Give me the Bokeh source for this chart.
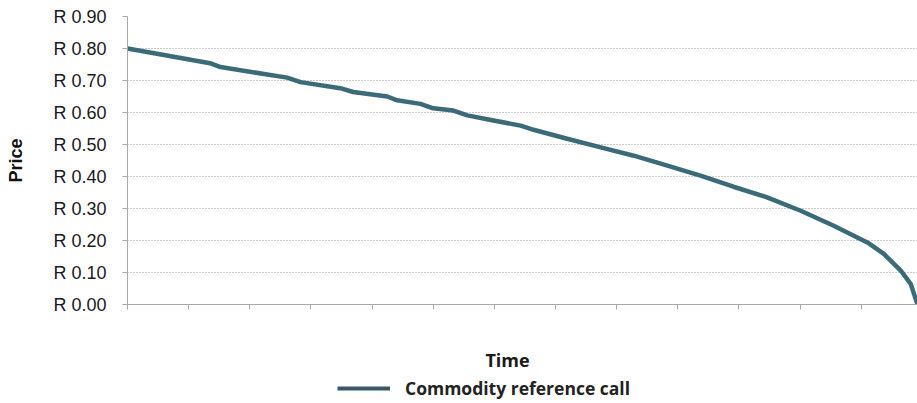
from bokeh.plotting import figure
from bokeh.layouts import column
from bokeh.models import Range1d, FixedTicker, Legend, LegendItem, ColumnDataSource, Label
from bokeh.embed import file_html
from bokeh.resources import INLINE

# ---- data (time in axis-tick units, price in Rand) ----
time = [0.0, 1.35, 1.52, 2.61, 2.83, 3.48, 3.69, 4.25, 4.41, 4.79, 5.00, 5.33,
        5.56, 5.88, 6.43, 6.64, 7.19, 7.74, 8.28, 8.83, 9.37, 9.91, 10.46,
        11.01, 11.55, 12.10, 12.37, 12.65, 12.81, 12.92]
price = [0.800, 0.754, 0.742, 0.709, 0.695, 0.676, 0.664, 0.650, 0.638, 0.627,
         0.613, 0.606, 0.591, 0.579, 0.559, 0.546, 0.518, 0.491, 0.465, 0.434,
         0.403, 0.368, 0.335, 0.293, 0.246, 0.194, 0.158, 0.105, 0.064, 0.0]
y_ticks = [0.0, 0.1, 0.2, 0.3, 0.4, 0.5, 0.6, 0.7, 0.8, 0.9]
y_tick_labels = ["R 0.00", "R 0.10", "R 0.20", "R 0.30", "R 0.40",
                 "R 0.50", "R 0.60", "R 0.70", "R 0.80", "R 0.90"]
x_ticks = list(range(13))
series_name = "Commodity reference call"
x_title = "Time"
y_title = "Price"

CURVE = "#3b6b79"
LEGEND_LINE = "#3a5669"
AXIS = "#a8a8a8"

W = 917
LEFT = 127
H_TOP = 324
H_BOT = 403 - H_TOP

p = figure(width=W, height=H_TOP, output_backend="svg", toolbar_location=None,
           x_range=Range1d(0, 12.92), y_range=Range1d(0, 0.9),
           min_border_left=LEFT, min_border_right=0, min_border_top=16,
           min_border_bottom=20)
p.outline_line_color = None
p.background_fill_color = "white"
p.border_fill_color = "white"

src = ColumnDataSource(dict(t=time, v=price))
p.line("t", "v", source=src, line_color=CURVE, line_width=4.5, line_join="round")

# y axis
ya = p.yaxis[0]
ya.ticker = FixedTicker(ticks=y_ticks)
ya.major_label_overrides = {t: l for t, l in zip(y_ticks, y_tick_labels)}
ya.minor_tick_line_color = None
ya.major_tick_in = 0
ya.major_tick_out = 5
ya.axis_line_color = AXIS
ya.major_tick_line_color = AXIS
ya.major_label_text_font = "Liberation Sans"
ya.major_label_text_font_size = "18px"
ya.major_label_text_color = "#1a1a1a"
ya.major_label_standoff = 16
ya.axis_label = y_title
ya.axis_label_text_font = "Liberation Sans"
ya.axis_label_text_font_style = "bold"
ya.axis_label_text_font_size = "18px"
ya.axis_label_text_color = "#111111"
ya.axis_label_standoff = 24

# x axis (tick labels are blank in the original)
xa = p.xaxis[0]
xa.ticker = FixedTicker(ticks=x_ticks)
xa.major_label_overrides = {t: "" for t in x_ticks}
xa.major_label_text_font_size = "1px"
xa.major_label_standoff = 0
xa.minor_tick_line_color = None
xa.major_tick_in = 0
xa.major_tick_out = 5
xa.axis_line_color = AXIS
xa.major_tick_line_color = AXIS

# grid
p.xgrid.grid_line_color = None
p.ygrid.ticker = FixedTicker(ticks=y_ticks[1:-1])
p.ygrid.grid_line_color = "#9a9a9a"
p.ygrid.grid_line_dash = "1 2"
p.ygrid.grid_line_width = 1

# ---- bottom strip: axis title + legend (frame aligned with the chart's frame) ----
p2 = figure(width=W, height=H_BOT, output_backend="svg", toolbar_location=None,
            x_range=Range1d(LEFT, W), y_range=Range1d(0, H_BOT),
            x_axis_location=None, y_axis_location=None,
            min_border_left=LEFT, min_border_right=0, min_border_top=0, min_border_bottom=0)
p2.outline_line_color = None
p2.xgrid.grid_line_color = None
p2.ygrid.grid_line_color = None
p2.background_fill_color = "white"
p2.border_fill_color = "white"

p2.add_layout(Label(x=507, y=403 - 359.5, text=x_title,
                    text_font="Open Sans", text_font_style="bold", text_font_size="18px",
                    text_color="#1a1a1a", text_align="center", text_baseline="middle"))

# legend swatch: the series drawn on an off-screen range so only its legend entry shows
p2.extra_x_ranges = {"off": Range1d(1000, 1001)}
swatch = p2.line("t", "v", source=src, x_range_name="off",
                 line_color=LEGEND_LINE, line_width=4)
legend = Legend(items=[LegendItem(label=series_name, renderers=[swatch])],
                location=(337 - LEFT, 3), orientation="horizontal",
                padding=0, margin=0, spacing=0, border_line_color=None,
                background_fill_alpha=0, glyph_width=53, glyph_height=20,
                label_height=20, label_standoff=15,
                label_text_font="Open Sans", label_text_font_style="bold",
                label_text_font_size="17.5px", label_text_color="#222222")
p2.add_layout(legend)

layout = column(p, p2, spacing=0)
open("out.html", "w").write(file_html(layout, INLINE))
